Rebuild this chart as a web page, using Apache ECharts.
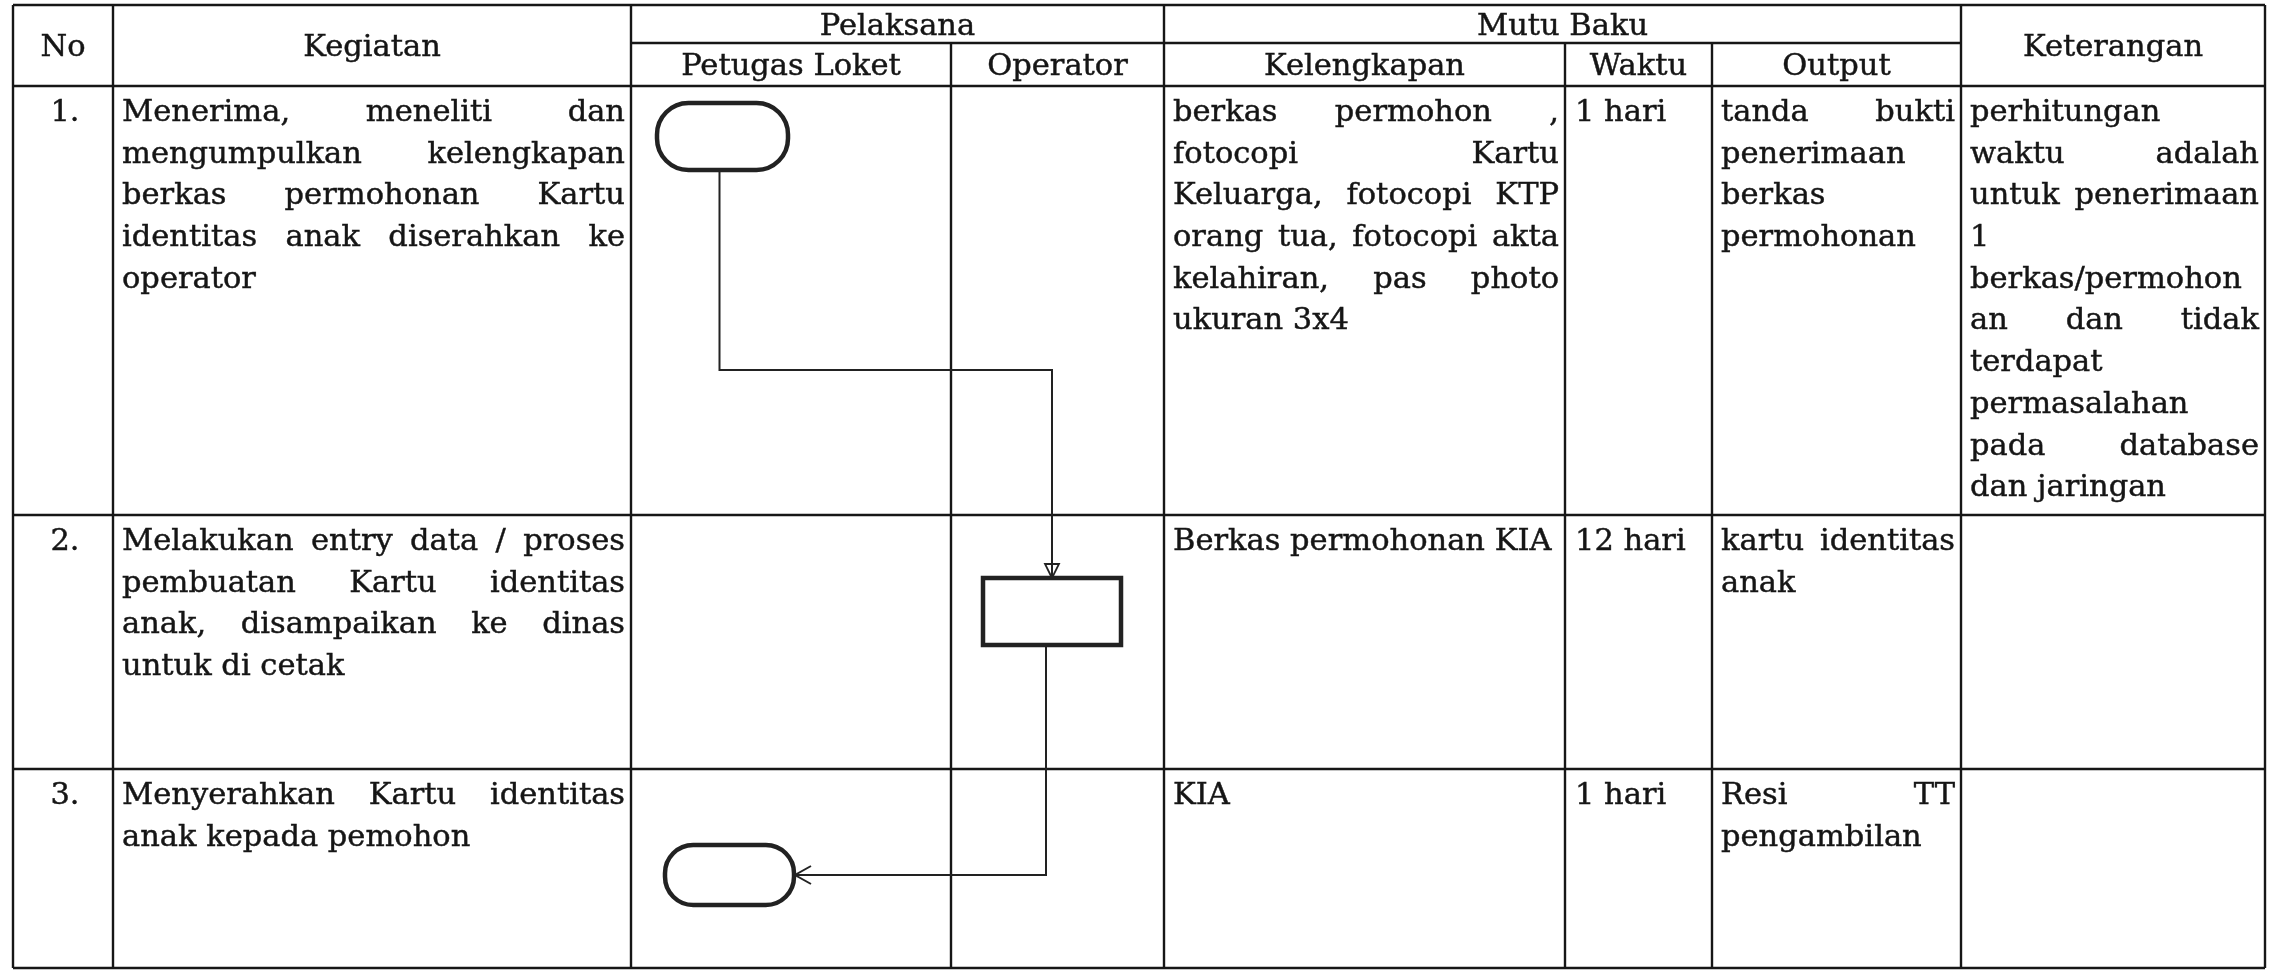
<!DOCTYPE html>
<html>
<head>
<meta charset="utf-8">
<title>SOP Kartu Identitas Anak</title>
<script src="https://cdn.jsdelivr.net/npm/echarts@6.0.0/dist/echarts.min.js"></script>
<style>
html,body{margin:0;padding:0;background:#ffffff;}
#chart{width:2284px;height:972px;}
</style>
</head>
<body>
<div id="chart"></div>
<script>
// ================= DATA =================
const headerLeft = ['No', 'Kegiatan'];
const headerGroups = ['Pelaksana', 'Mutu Baku'];
const headerRight = ['Keterangan'];
const subHeaders = ['Petugas Loket', 'Operator', 'Kelengkapan', 'Waktu', 'Output'];
const rowNumbers = ['1.', '2.', '3.'];
const kegiatan = [
  ['Menerima, meneliti dan', 'mengumpulkan kelengkapan', 'berkas permohonan Kartu', 'identitas anak diserahkan ke', 'operator'],
  ['Melakukan entry data / proses', 'pembuatan Kartu identitas', 'anak, disampaikan ke dinas', 'untuk di cetak'],
  ['Menyerahkan Kartu identitas', 'anak kepada pemohon']
];
const kelengkapan = [
  ['berkas permohon ,', 'fotocopi Kartu', 'Keluarga, fotocopi KTP', 'orang tua, fotocopi akta', 'kelahiran, pas photo', 'ukuran 3x4'],
  ['Berkas permohonan KIA'],
  ['KIA']
];
const waktu = [['1 hari'], ['12 hari'], ['1 hari']];
const output = [
  ['tanda bukti', 'penerimaan', 'berkas', 'permohonan'],
  ['kartu identitas', 'anak'],
  ['Resi TT', 'pengambilan']
];
const keterangan = [
  ['perhitungan', 'waktu adalah', 'untuk penerimaan', '1', 'berkas/permohon', 'an dan tidak', 'terdapat', 'permasalahan', 'pada database', 'dan jaringan'],
  [],
  []
];
const flowSteps = [
  {row: 0, lane: 'Petugas Loket', shape: 'terminator'},
  {row: 1, lane: 'Operator', shape: 'process'},
  {row: 2, lane: 'Petugas Loket', shape: 'terminator'}
];

// ================= LAYOUT =================
const W = 2284, H = 972;
const colEdges = [13, 113, 631, 951, 1164, 1565, 1712, 1961, 2265];
const headTop = 5, headMid = 43, headBottom = 86;
const rowEdges = [86, 515, 769, 968];
const laneCols = {'Petugas Loket': 2, 'Operator': 3};
const shapeOffsets = [
  {dx: 26, dy: 17, w: 131, h: 67},
  {dx: 32, dy: 63, w: 138, h: 67},
  {dx: 34, dy: 76, w: 129, h: 60}
];
const bendDy = 284;
const FONT_SIZE = 30.5;
const FONT = FONT_SIZE + 'px "DejaVu Serif", serif';
const LINE_H = 41.7;
const FIRST_LINE = 27;
const PAD_L = 9, PAD_R = 6;
const HEAD_SHIFT = 3;
const TEXT_COLOR = '#151515';
const LINE_COLOR = '#161616';

const mctx = document.createElement('canvas').getContext('2d');
mctx.font = FONT;
function tw(s) { return mctx.measureText(s).width; }

// ----- table line segments -----
const segs = [];
segs.push([colEdges[0], headTop, colEdges[8], headTop]);
segs.push([colEdges[2], headMid, colEdges[7], headMid]);
rowEdges.forEach(y => segs.push([colEdges[0], y, colEdges[8], y]));
[0, 1, 2, 4, 7, 8].forEach(i => segs.push([colEdges[i], headTop, colEdges[i], rowEdges[3]]));
[3, 5, 6].forEach(i => segs.push([colEdges[i], headMid, colEdges[i], rowEdges[3]]));

// ----- cells -----
const cells = [];
cells.push({mode: 'center', lines: [headerLeft[0]], x0: colEdges[0], x1: colEdges[1], y0: headTop, y1: headBottom});
cells.push({mode: 'center', lines: [headerLeft[1]], x0: colEdges[1], x1: colEdges[2], y0: headTop, y1: headBottom});
cells.push({mode: 'center', lines: [headerGroups[0]], x0: colEdges[2], x1: colEdges[4], y0: headTop, y1: headMid});
cells.push({mode: 'center', lines: [headerGroups[1]], x0: colEdges[4], x1: colEdges[7], y0: headTop, y1: headMid});
cells.push({mode: 'center', lines: [headerRight[0]], x0: colEdges[7], x1: colEdges[8], y0: headTop, y1: headBottom});
subHeaders.forEach((t, i) => cells.push({mode: 'center', lines: [t], x0: colEdges[i + 2], x1: colEdges[i + 3], y0: headMid, y1: headBottom}));
const bodyCols = [
  {col: 0, src: rowNumbers.map(s => [s]), mode: 'numcenter'},
  {col: 1, src: kegiatan, mode: 'justify'},
  {col: 4, src: kelengkapan, mode: 'justify'},
  {col: 5, src: waktu, mode: 'left', padL: 10},
  {col: 6, src: output, mode: 'justify'},
  {col: 7, src: keterangan, mode: 'justify'}
];
for (let r = 0; r < 3; r++) {
  bodyCols.forEach(bc => {
    const lines = bc.src[r];
    if (!lines || !lines.length) return;
    cells.push({mode: bc.mode, lines: lines, x0: colEdges[bc.col], x1: colEdges[bc.col + 1], y0: rowEdges[r], y1: rowEdges[r + 1], padL: bc.padL});
  });
}

function renderCell(params, api) {
  const c = cells[params.dataIndex];
  const children = [];
  const txt = (s, x, y, align, sx) => {
    const p = api.coord([x, y]);
    children.push({type: 'text', x: p[0], y: p[1], scaleX: sx || 1,
      style: {text: s, font: FONT, fill: TEXT_COLOR, stroke: TEXT_COLOR, lineWidth: 0.45,
        align: align, verticalAlign: 'middle'}});
  };
  if (c.mode === 'center') {
    txt(c.lines[0], (c.x0 + c.x1) / 2, (c.y0 + c.y1) / 2 + HEAD_SHIFT, 'center');
    return {type: 'group', children};
  }
  c.lines.forEach((line, li) => {
    const y = c.y0 + FIRST_LINE + li * LINE_H;
    if (c.mode === 'numcenter') { txt(line, (c.x0 + c.x1) / 2 + 2, y, 'center'); return; }
    const xs = c.x0 + (c.padL || PAD_L), xe = c.x1 - PAD_R;
    const avail = xe - xs;
    const words = line.split(' ').filter(Boolean);
    const natural = tw(line);
    const isLast = li === c.lines.length - 1;
    if (c.mode === 'justify' && !isLast && words.length > 1) {
      const widths = words.map(tw);
      const sum = widths.reduce((a, b) => a + b, 0);
      const gap = (avail - sum) / (words.length - 1);
      if (gap < tw(' ') * 0.6) {
        txt(line, xs, y, 'left', Math.min(1, avail / natural));
        return;
      }
      let x = xs;
      words.forEach((w, i) => { txt(w, x, y, 'left'); x += widths[i] + gap; });
    } else {
      txt(line, xs, y, 'left', natural > avail ? avail / natural : 1);
    }
  });
  return {type: 'group', children};
}

function stepBox(i) {
  const st = flowSteps[i];
  const c = laneCols[st.lane];
  const o = shapeOffsets[i];
  return {x: colEdges[c] + o.dx, y: rowEdges[st.row] + o.dy, w: o.w, h: o.h};
}

function renderShape(params, api) {
  const b = stepBox(params.dataIndex);
  const tl = api.coord([b.x, b.y]), br = api.coord([b.x + b.w, b.y + b.h]);
  const w = br[0] - tl[0], h = br[1] - tl[1];
  const r = flowSteps[params.dataIndex].shape === 'terminator' ? h * 0.47 : 0;
  return {type: 'rect', shape: {x: tl[0], y: tl[1], width: w, height: h, r: r},
    style: {fill: '#ffffff', stroke: '#222222', lineWidth: 4.5}};
}

function renderConnector(params, api) {
  const i = params.dataIndex;
  const a = stepBox(i), b = stepBox(i + 1);
  const ax = a.x + a.w / 2 - 3, ay = a.y + a.h;
  const children = [];
  let pts;
  if (b.x > a.x) {
    const by = rowEdges[flowSteps[i].row] + bendDy;
    const bx = b.x + b.w / 2;
    pts = [[ax, ay], [ax, by], [bx, by], [bx, b.y]];
    const tri = [[bx, b.y], [bx - 7, b.y - 14], [bx + 7, b.y - 14]].map(p => api.coord(p));
    children.push({type: 'polygon', shape: {points: tri}, style: {fill: 'none', stroke: '#222', lineWidth: 1.8}, z2: 5});
  } else {
    const cy = b.y + b.h / 2, ex = b.x + b.w;
    pts = [[ax + 3 - 6, ay], [ax + 3 - 6, cy], [ex, cy]];
    const chev = [[ex + 17, cy - 9], [ex + 1, cy], [ex + 17, cy + 9]].map(p => api.coord(p));
    children.push({type: 'polyline', shape: {points: chev}, style: {fill: 'none', stroke: '#222', lineWidth: 2}, z2: 5});
  }
  children.unshift({type: 'polyline', shape: {points: pts.map(p => api.coord(p))},
    style: {fill: 'none', stroke: '#222', lineWidth: 2}});
  return {type: 'group', children};
}

const chart = echarts.init(document.getElementById('chart'), null, {renderer: 'canvas', width: W, height: H});
chart.setOption({
  backgroundColor: '#ffffff',
  animation: false,
  grid: {left: 0, right: 0, top: 0, bottom: 0, containLabel: false},
  xAxis: {type: 'value', min: 0, max: W, show: false},
  yAxis: {type: 'value', min: 0, max: H, inverse: true, show: false},
  series: [
    {type: 'custom', name: 'table', silent: true, data: segs.map((s, i) => [0, 0, i]),
      renderItem: (params, api) => {
        const s = segs[params.dataIndex];
        const p1 = api.coord([s[0], s[1]]), p2 = api.coord([s[2], s[3]]);
        return {type: 'line', shape: {x1: p1[0], y1: p1[1], x2: p2[0], y2: p2[1]},
          style: {stroke: LINE_COLOR, lineWidth: 2.4}};
      }},
    {type: 'custom', name: 'cells', silent: true, data: cells.map((c, i) => [0, 0, i]), renderItem: renderCell},
    {type: 'custom', name: 'connectors', silent: true, data: flowSteps.slice(1).map((s, i) => [0, 0, i]), renderItem: renderConnector},
    {type: 'custom', name: 'shapes', silent: true, data: flowSteps.map((s, i) => [0, 0, i]), renderItem: renderShape}
  ]
});
</script>
</body>
</html>
